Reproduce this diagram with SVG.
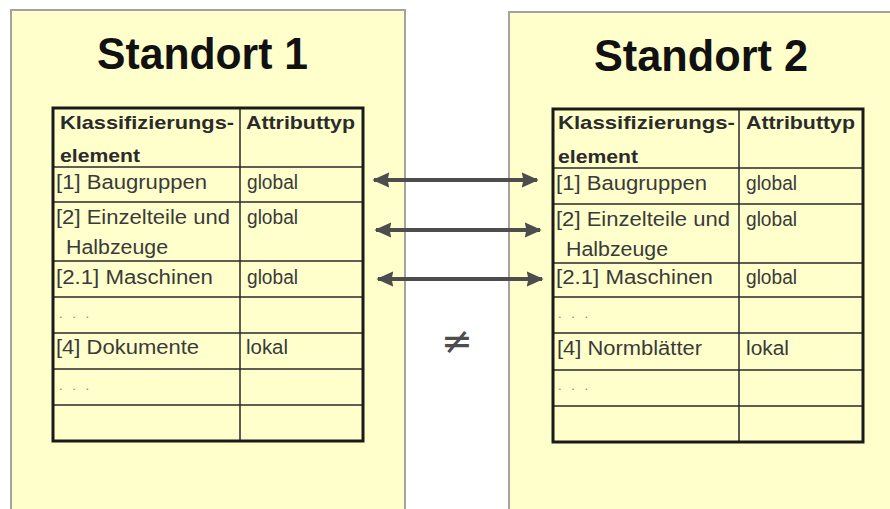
<svg xmlns="http://www.w3.org/2000/svg" width="890" height="509" viewBox="0 0 890 509">
  <defs>
    <style>
      .panel { fill: #ffffcc; stroke: #a3a3a3; stroke-width: 2; }
      .title { font-family: "Liberation Sans", Arial, sans-serif; font-weight: bold; font-size: 45px; fill: #111; }
      .frame { fill: none; stroke: #1a1a1a; stroke-width: 3; }
      .grid { stroke: #2a2a2a; stroke-width: 1.5; fill: none; }
      .hd { font-family: "Liberation Sans", Arial, sans-serif; font-weight: bold; font-size: 19px; fill: #2b2b2b; }
      .tx { font-family: "Liberation Sans", Arial, sans-serif; font-size: 19.5px; fill: #3a3a3a; }
      .dots { font-family: "Liberation Sans", Arial, sans-serif; font-size: 13px; fill: #7f7f7f; letter-spacing: 3px; }
      .link { stroke: #4d4d4d; stroke-width: 4; fill: none; marker-start: url(#head); marker-end: url(#head); }
      .neq { font-family: "DejaVu Sans", "Liberation Sans", sans-serif; font-size: 38px; fill: #4d4d4d; }
    </style>
    <marker id="head" viewBox="0 0 10 10" refX="9" refY="5" markerWidth="17" markerHeight="17" orient="auto-start-reverse" markerUnits="userSpaceOnUse">
      <path d="M0,0.5 L10,5 L0,9.5 L1,5 Z" fill="#4d4d4d"/>
    </marker>
  </defs>

  <rect width="890" height="509" fill="#ffffff"/>

  <!-- Site 1 -->
  <g id="standort1">
    <rect class="panel" x="11" y="10" width="394" height="510"/>
    <text class="title" x="97" y="69" textLength="211" lengthAdjust="spacingAndGlyphs">Standort 1</text>
    <g id="tabelle1">
      <rect x="53" y="108" width="310" height="333" fill="none"/>
      <path class="grid" d="M240,108 V441 M53,167 H363 M53,202 H363 M53,261 H363 M53,297 H363 M53,333 H363 M53,369 H363 M53,405 H363"/>
      <rect class="frame" x="53" y="108" width="310" height="333"/>
      <text class="hd" x="60" y="129" textLength="174" lengthAdjust="spacingAndGlyphs">Klassifizierungs-</text>
      <text class="hd" x="246" y="129" textLength="109" lengthAdjust="spacingAndGlyphs">Attributtyp</text>
      <text class="hd" x="60" y="162" textLength="80" lengthAdjust="spacingAndGlyphs">element</text>
      <text class="tx" x="56" y="189" textLength="151" lengthAdjust="spacingAndGlyphs">[1] Baugruppen</text>
      <text class="tx" x="247" y="189" textLength="51" lengthAdjust="spacingAndGlyphs">global</text>
      <text class="tx" x="56" y="224" textLength="174" lengthAdjust="spacingAndGlyphs">[2] Einzelteile und</text>
      <text class="tx" x="247" y="224" textLength="51" lengthAdjust="spacingAndGlyphs">global</text>
      <text class="tx" x="66" y="254" textLength="102" lengthAdjust="spacingAndGlyphs">Halbzeuge</text>
      <text class="tx" x="56" y="284" textLength="157" lengthAdjust="spacingAndGlyphs">[2.1] Maschinen</text>
      <text class="tx" x="247" y="284" textLength="51" lengthAdjust="spacingAndGlyphs">global</text>
      <text class="dots" x="59" y="318">. . .</text>
      <text class="tx" x="56" y="354" textLength="143" lengthAdjust="spacingAndGlyphs">[4] Dokumente</text>
      <text class="tx" x="246" y="354" textLength="42" lengthAdjust="spacingAndGlyphs">lokal</text>
      <text class="dots" x="59" y="390">. . .</text>
    </g>
  </g>

  <!-- Site 2 -->
  <g id="standort2">
    <rect class="panel" x="509" y="12" width="392" height="510"/>
    <text class="title" x="594" y="71" textLength="214" lengthAdjust="spacingAndGlyphs">Standort 2</text>
    <g id="tabelle2">
      <rect x="553" y="109" width="310" height="333" fill="none"/>
      <path class="grid" d="M739,109 V442 M553,168 H863 M553,204 H863 M553,263 H863 M553,297 H863 M553,333 H863 M553,370 H863 M553,406 H863"/>
      <rect class="frame" x="553" y="109" width="310" height="333"/>
      <text class="hd" x="558" y="129" textLength="177" lengthAdjust="spacingAndGlyphs">Klassifizierungs-</text>
      <text class="hd" x="746" y="129" textLength="109" lengthAdjust="spacingAndGlyphs">Attributtyp</text>
      <text class="hd" x="558" y="163" textLength="80" lengthAdjust="spacingAndGlyphs">element</text>
      <text class="tx" x="556" y="190" textLength="151" lengthAdjust="spacingAndGlyphs">[1] Baugruppen</text>
      <text class="tx" x="746" y="190" textLength="51" lengthAdjust="spacingAndGlyphs">global</text>
      <text class="tx" x="556" y="226" textLength="174" lengthAdjust="spacingAndGlyphs">[2] Einzelteile und</text>
      <text class="tx" x="746" y="226" textLength="51" lengthAdjust="spacingAndGlyphs">global</text>
      <text class="tx" x="566" y="256" textLength="102" lengthAdjust="spacingAndGlyphs">Halbzeuge</text>
      <text class="tx" x="556" y="284" textLength="157" lengthAdjust="spacingAndGlyphs">[2.1] Maschinen</text>
      <text class="tx" x="746" y="284" textLength="51" lengthAdjust="spacingAndGlyphs">global</text>
      <text class="dots" x="558" y="318">. . .</text>
      <text class="tx" x="557" y="355" textLength="145" lengthAdjust="spacingAndGlyphs">[4] Normblätter</text>
      <text class="tx" x="746" y="355" textLength="43" lengthAdjust="spacingAndGlyphs">lokal</text>
      <text class="dots" x="558" y="390">. . .</text>
    </g>
  </g>

  <!-- Correspondences between the global entries -->
  <g id="connectors">
    <line class="link" x1="374" y1="180" x2="537" y2="180"/>
    <line class="link" x1="376" y1="230" x2="540" y2="230"/>
    <line class="link" x1="378" y1="279" x2="542" y2="279"/>
  </g>

  <text class="neq" x="457" y="354" text-anchor="middle">≠</text>
</svg>
